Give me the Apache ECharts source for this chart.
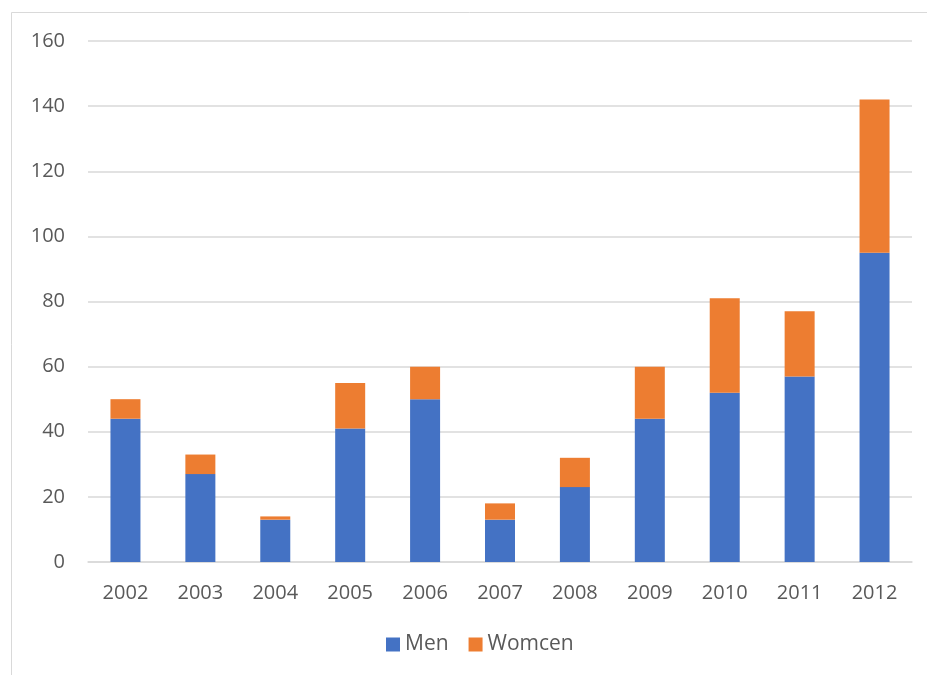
<!DOCTYPE html>
<html>
<head>
<meta charset="utf-8">
<script src="https://cdn.jsdelivr.net/npm/echarts@6/dist/echarts.min.js"></script>
<style>
  html, body { margin: 0; padding: 0; background: #fff; }
  #chart { width: 927px; height: 675px; }
</style>
</head>
<body>
<div id="chart"></div>
<script>
const years = ['2002', '2003', '2004', '2005', '2006', '2007', '2008', '2009', '2010', '2011', '2012'];
const men = [44, 27, 13, 41, 50, 13, 23, 44, 52, 57, 95];
const women = [6, 6, 1, 14, 10, 5, 9, 16, 29, 20, 47];
const yTicks = [0, 20, 40, 60, 80, 100, 120, 140, 160];

const font = '"Open Sans", "Liberation Sans", sans-serif';
const chart = echarts.init(document.getElementById('chart'));

chart.setOption({
  animation: false,
  backgroundColor: '#ffffff',
  textStyle: { fontFamily: font },
  graphic: [{
    type: 'rect',
    shape: { x: 11.5, y: 12.5, width: 1000, height: 1000 },
    style: { fill: 'none', stroke: '#d9d9d9', lineWidth: 1 },
    silent: true
  }],
  grid: { left: 88, right: 15, top: 41, bottom: 113 },
  legend: {
    bottom: 15,
    left: 381,
    itemWidth: 14,
    itemHeight: 14,
    itemGap: 20,
    icon: 'rect',
    textStyle: { color: '#595959', fontSize: 21, fontFamily: font },
    data: ['Men', 'Womcen']
  },
  xAxis: {
    type: 'category',
    data: years,
    axisLine: { lineStyle: { color: '#d9d9d9', width: 1.5 } },
    axisTick: { show: false },
    axisLabel: { color: '#595959', fontSize: 20, margin: 21, fontFamily: font }
  },
  yAxis: {
    type: 'value',
    min: yTicks[0],
    max: yTicks[yTicks.length - 1],
    interval: 20,
    axisLine: { show: false },
    axisTick: { show: false },
    splitLine: { lineStyle: { color: '#d9d9d9', width: 1.5 } },
    axisLabel: { color: '#595959', fontSize: 20, margin: 23, fontFamily: font }
  },
  series: [
    {
      name: 'Men',
      type: 'bar',
      stack: 'total',
      data: men,
      barWidth: 30,
      itemStyle: { color: '#4472c4' }
    },
    {
      name: 'Womcen',
      type: 'bar',
      stack: 'total',
      data: women,
      barWidth: 30,
      itemStyle: { color: '#ed7d31' }
    }
  ]
});
</script>
</body>
</html>
